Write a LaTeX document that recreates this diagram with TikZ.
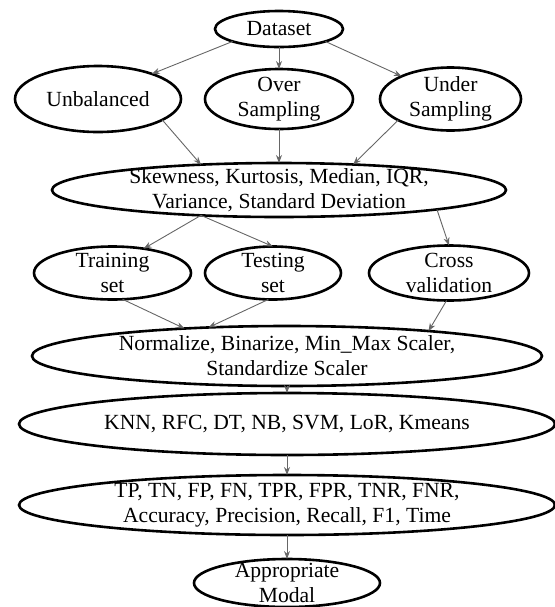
\documentclass[tikz,border=0pt]{standalone}
\usepackage{fontspec}
\setmainfont{Liberation Serif}
\usetikzlibrary{arrows.meta,positioning,shapes.geometric}

\begin{document}
\begin{tikzpicture}[oval/.style={draw,ellipse,line width=1.3pt,inner xsep=0pt,inner ysep=-4pt,outer sep=0pt,align=center,font=\fontsize{10.8}{12.5}\selectfont},arr/.style={-{Stealth[length=4pt,width=3pt]},line width=.45pt,draw=black!60}]
\useasboundingbox (0,0) rectangle (277pt,-303.5pt);
\node[oval,minimum width=64pt,minimum height=18pt] (data) at (139.5pt,-14.5pt) {Dataset};
\node[oval,minimum width=74pt,minimum height=30pt,below=11pt of data] (over) {Over\\Sampling};
\node[oval,minimum width=83pt,minimum height=33pt,left=12pt of over] (unbal) {Unbalanced};
\node[oval,minimum width=70.5pt,minimum height=31.5pt,right=13.5pt of over] (under) {Under\\Sampling};
\node[oval,minimum width=227pt,minimum height=27pt,below=17pt of over] (skew) {Skewness, Kurtosis, Median, IQR,\\Variance, Standard Deviation};
\node[oval,minimum width=68pt,minimum height=26.5pt,below=14.75pt of skew,xshift=-3pt] (test) {Testing\\set};
\node[oval,minimum width=78.5pt,minimum height=26.5pt,left=7pt of test] (train) {Training\\set};
\node[oval,minimum width=80pt,minimum height=27.5pt,right=14pt of test] (cross) {Cross\\validation};
\node[oval,minimum width=255pt,minimum height=30pt,below=13.25pt of test,xshift=7pt] (norm) {Normalize, Binarize, Min\_Max Scaler,\\Standardize Scaler};
\node[oval,minimum width=268pt,minimum height=31pt,below=3.5pt of norm] (knn) {KNN, RFC, DT, NB, SVM, LoR, Kmeans};
\node[oval,minimum width=268pt,minimum height=30pt,below=10pt of knn] (tp) {TP, TN, FP, FN, TPR, FPR, TNR, FNR,\\Accuracy, Precision, Recall, F1, Time};
\node[oval,minimum width=93pt,minimum height=24pt,below=12pt of tp] (appr) {Appropriate\\Modal};
\draw[arr] (data.195)--(unbal.25);\draw[arr] (data)--(over);\draw[arr] (data.-15)--(under.155);
\draw[arr] (unbal.-18)--(skew.162);\draw[arr] (over)--(skew);\draw[arr] (under.202)--(skew.19);
\draw[arr] (skew.198)--(train.38);\draw[arr] (skew.198)--(test.north);\draw[arr] (skew.-7)--(cross.north);
\draw[arr] (train.-69)--(norm.165);\draw[arr] (test.-100)--(norm.160);\draw[arr] (cross.-95)--(norm.10);
\draw[arr] (norm)--(knn);\draw[arr] (knn)--(tp);\draw[arr] (tp)--(appr);
\end{tikzpicture}
\end{document}
